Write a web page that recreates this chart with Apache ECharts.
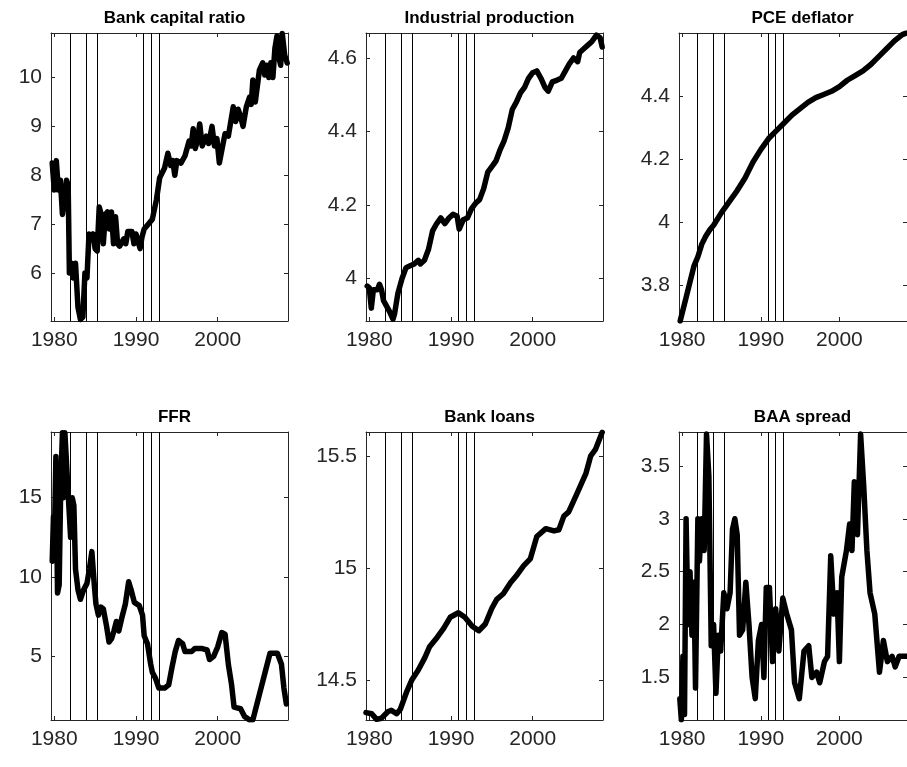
<!DOCTYPE html>
<html lang="en">
<head>
    <meta charset="UTF-8">
    <title>Macro series</title>
    <script src="https://cdn.jsdelivr.net/npm/echarts@6/dist/echarts.min.js"></script>
    <style>
        html, body { margin: 0; padding: 0; background: #fff; }
        #main { width: 907px; height: 767px; }
    </style>
</head>
<body>
    <div id="main"></div>
    <script>
        // data: [year, value]
        var bankCapital = [[1979.75,8.25],[1980.0,7.7],[1980.25,8.3],[1980.5,7.7],[1980.75,7.9],[1981.0,7.2],[1981.25,7.5],[1981.5,7.9],[1981.7,7.8],[1981.85,6.0],[1982.1,6.2],[1982.3,5.9],[1982.6,6.2],[1982.9,5.3],[1983.2,5.05],[1983.5,5.1],[1983.75,6.0],[1984.0,5.9],[1984.25,6.8],[1984.5,6.7],[1984.75,6.8],[1985.0,6.5],[1985.25,6.45],[1985.5,7.35],[1985.75,7.2],[1986.0,6.6],[1986.25,7.2],[1986.5,7.25],[1986.75,6.9],[1987.0,7.25],[1987.25,6.6],[1987.5,7.15],[1987.75,6.6],[1988.0,6.55],[1988.5,6.7],[1988.75,6.6],[1989.0,6.85],[1989.5,6.85],[1989.75,6.6],[1990.0,6.8],[1990.5,6.5],[1990.75,6.75],[1991.0,6.9],[1991.5,7.0],[1992.0,7.1],[1992.5,7.5],[1992.9,7.95],[1993.5,8.15],[1993.9,8.45],[1994.25,8.2],[1994.5,8.3],[1994.75,8.0],[1995.0,8.3],[1995.5,8.25],[1996.0,8.4],[1996.5,8.7],[1996.75,8.6],[1997.0,8.95],[1997.25,8.55],[1997.5,8.7],[1997.8,9.05],[1998.1,8.6],[1998.6,8.8],[1998.9,8.65],[1999.3,9.0],[1999.6,8.6],[1999.9,8.75],[2000.2,8.25],[2000.6,8.6],[2000.9,8.85],[2001.3,8.8],[2001.9,9.4],[2002.2,9.1],[2002.5,9.35],[2002.8,9.2],[2003.1,9.0],[2003.5,9.4],[2003.9,9.6],[2004.1,9.45],[2004.3,9.95],[2004.6,9.5],[2005.1,10.15],[2005.5,10.3],[2005.75,10.05],[2006.0,10.25],[2006.25,10.0],[2006.5,10.3],[2006.75,10.0],[2007.0,10.6],[2007.25,10.85],[2007.5,10.4],[2007.7,10.25],[2007.9,10.9],[2008.2,10.45],[2008.5,10.3]];
        var indProd = [[1979.75,3.98],[1980.0,3.975],[1980.25,3.92],[1980.5,3.97],[1980.75,3.97],[1981.0,3.97],[1981.25,3.985],[1981.5,3.97],[1981.75,3.94],[1982.0,3.93],[1982.5,3.91],[1982.9,3.89],[1983.1,3.905],[1983.5,3.96],[1984.0,4.0],[1984.5,4.03],[1985.0,4.035],[1985.5,4.04],[1986.0,4.05],[1986.25,4.04],[1986.75,4.05],[1987.25,4.08],[1987.75,4.13],[1988.25,4.15],[1988.75,4.165],[1989.25,4.15],[1989.75,4.165],[1990.25,4.175],[1990.75,4.17],[1991.0,4.135],[1991.5,4.16],[1992.0,4.165],[1992.5,4.19],[1993.0,4.205],[1993.5,4.215],[1994.0,4.245],[1994.5,4.29],[1995.0,4.305],[1995.5,4.32],[1996.0,4.35],[1996.5,4.375],[1997.0,4.41],[1997.5,4.46],[1998.0,4.48],[1998.5,4.505],[1999.0,4.52],[1999.5,4.545],[2000.0,4.56],[2000.5,4.565],[2001.0,4.545],[2001.5,4.52],[2001.9,4.51],[2002.4,4.535],[2003.0,4.54],[2003.5,4.545],[2004.0,4.565],[2004.5,4.585],[2005.0,4.6],[2005.5,4.59],[2005.75,4.615],[2006.25,4.625],[2006.75,4.635],[2007.25,4.645],[2007.8,4.662],[2008.25,4.655],[2008.5,4.63]];
        var pce = [[1979.75,3.686],[1980.5,3.76],[1981.0,3.81],[1981.5,3.86],[1982.0,3.89],[1982.5,3.93],[1983.0,3.955],[1983.5,3.975],[1984.0,3.99],[1985.0,4.03],[1986.0,4.065],[1987.0,4.1],[1988.0,4.14],[1989.0,4.19],[1990.0,4.23],[1991.0,4.265],[1992.0,4.29],[1993.0,4.315],[1994.0,4.34],[1995.0,4.36],[1996.0,4.38],[1997.0,4.395],[1998.0,4.405],[1999.0,4.415],[2000.0,4.43],[2001.0,4.45],[2002.0,4.465],[2003.0,4.48],[2004.0,4.5],[2005.0,4.525],[2006.0,4.55],[2007.0,4.575],[2008.0,4.595],[2008.5,4.6]];
        var ffr = [[1979.75,11.0],[1979.9,13.8],[1980.0,12.0],[1980.2,17.6],[1980.4,9.0],[1980.6,9.5],[1980.8,16.0],[1981.0,19.1],[1981.1,15.0],[1981.3,19.1],[1981.5,19.0],[1981.75,14.8],[1982.0,12.5],[1982.2,15.0],[1982.4,14.5],[1982.6,10.5],[1982.9,9.2],[1983.2,8.6],[1983.6,9.2],[1984.0,9.6],[1984.3,10.5],[1984.6,11.6],[1984.9,9.5],[1985.1,8.3],[1985.4,7.6],[1985.7,8.1],[1986.0,8.0],[1986.4,6.9],[1986.7,5.9],[1987.0,6.1],[1987.3,6.6],[1987.6,7.2],[1987.9,6.6],[1988.3,7.5],[1988.7,8.3],[1989.1,9.7],[1989.4,9.2],[1989.8,8.4],[1990.4,8.2],[1990.8,7.6],[1991.0,6.3],[1991.4,5.8],[1991.8,4.5],[1992.0,4.0],[1992.4,3.6],[1992.8,3.0],[1993.5,3.0],[1994.0,3.2],[1994.4,4.3],[1994.8,5.3],[1995.2,6.0],[1995.7,5.8],[1996.0,5.3],[1996.8,5.3],[1997.2,5.5],[1998.0,5.5],[1998.7,5.4],[1999.0,4.8],[1999.5,5.0],[2000.0,5.6],[2000.5,6.5],[2000.9,6.4],[2001.3,4.5],[2001.7,3.2],[2002.0,1.8],[2002.8,1.7],[2003.3,1.2],[2003.9,1.0],[2004.3,1.0],[2004.8,2.0],[2005.3,3.0],[2005.8,4.0],[2006.4,5.2],[2007.3,5.2],[2007.8,4.5],[2008.1,3.0],[2008.4,2.0]];
        var bankLoans = [[1979.6,14.355],[1980.3,14.35],[1980.9,14.325],[1981.5,14.33],[1982.3,14.36],[1982.7,14.365],[1983.35,14.35],[1983.8,14.37],[1984.6,14.45],[1985.2,14.5],[1986.0,14.545],[1986.8,14.6],[1987.4,14.65],[1988.3,14.69],[1989.1,14.73],[1989.9,14.78],[1990.9,14.8],[1991.7,14.78],[1992.6,14.74],[1993.4,14.72],[1994.2,14.75],[1995.0,14.82],[1995.6,14.86],[1996.4,14.885],[1997.3,14.935],[1998.1,14.97],[1998.9,15.01],[1999.7,15.04],[2000.5,15.14],[2001.6,15.175],[2002.6,15.165],[2003.2,15.17],[2003.8,15.23],[2004.4,15.25],[2005.4,15.33],[2006.5,15.42],[2007.1,15.5],[2007.7,15.53],[2008.5,15.605]];
        var baaSpread = [[1979.7,1.3],[1979.9,1.1],[1980.1,1.7],[1980.3,1.15],[1980.5,3.0],[1980.75,2.0],[1981.0,2.5],[1981.25,1.9],[1981.5,2.4],[1981.7,1.4],[1982.0,3.0],[1982.2,2.6],[1982.5,3.0],[1982.8,2.7],[1983.1,3.8],[1983.4,3.4],[1983.7,1.8],[1984.0,2.0],[1984.3,1.35],[1984.6,1.9],[1984.9,1.75],[1985.3,2.3],[1985.7,2.15],[1986.1,2.3],[1986.4,2.9],[1986.7,3.0],[1987.0,2.85],[1987.3,1.9],[1987.7,1.95],[1988.1,2.4],[1988.5,2.0],[1988.9,1.5],[1989.3,1.3],[1989.7,1.85],[1990.1,2.0],[1990.4,1.5],[1990.7,2.35],[1991.1,2.35],[1991.5,1.65],[1991.9,2.15],[1992.3,1.75],[1992.8,2.25],[1993.3,2.1],[1993.9,1.95],[1994.3,1.45],[1994.9,1.3],[1995.5,1.75],[1996.1,1.8],[1996.5,1.5],[1997.1,1.55],[1997.5,1.45],[1998.1,1.65],[1998.5,1.7],[1998.9,2.65],[1999.3,2.1],[1999.7,2.3],[2000.0,1.65],[2000.3,2.45],[2000.9,2.7],[2001.3,2.95],[2001.6,2.7],[2001.9,3.35],[2002.3,2.85],[2002.7,3.8],[2003.1,3.3],[2003.5,2.7],[2003.9,2.3],[2004.5,2.1],[2005.1,1.55],[2005.6,1.85],[2006.1,1.65],[2006.7,1.7],[2007.1,1.6],[2007.6,1.7],[2008.5,1.7]];

        var recessionLines = [1981.95, 1983.9, 1985.3, 1990.9, 1991.9, 1992.85];
        var xTicks = [1980, 1990, 2000];

        var panels = [
            { title: 'Bank capital ratio', data: bankCapital, min: 5.02, max: 10.91, ticks: [6, 7, 8, 9, 10] },
            { title: 'Industrial production', data: indProd, min: 3.885, max: 4.668, ticks: [4, 4.2, 4.4, 4.6] },
            { title: 'PCE deflator', data: pce, min: 3.686, max: 4.6, ticks: [3.8, 4, 4.2, 4.4] },
            { title: 'FFR', data: ffr, min: 0.99, max: 19.14, ticks: [5, 10, 15] },
            { title: 'Bank loans', data: bankLoans, min: 14.322, max: 15.606, ticks: [14.5, 15, 15.5] },
            { title: 'BAA spread', data: baaSpread, min: 1.098, max: 3.82, ticks: [1.5, 2, 2.5, 3, 3.5] }
        ];

        var lefts = [51, 366, 679];
        var tops = [33, 432];
        var W = 237, H = 288;
        var axisColor = '#262626';
        var font = 'Liberation Sans';

        var grid = [], xAxis = [], yAxis = [], series = [], title = [];
        panels.forEach(function (p, i) {
            var l = lefts[i % 3], t = tops[Math.floor(i / 3)];
            grid.push({ left: l, top: t, width: W, height: H });
            title.push({
                text: p.title, left: l + W / 2, top: t - 28, textAlign: 'center',
                textStyle: { fontFamily: font, fontSize: 17, fontWeight: 'bold', color: '#000' }
            });
            ['bottom', 'top'].forEach(function (pos) {
                xAxis.push({
                    type: 'value', gridIndex: i, position: pos, min: 1979.6, max: 2008.6,
                    axisLine: { show: true, onZero: false, lineStyle: { color: axisColor } },
                    axisTick: { show: true, inside: true, length: 4, customValues: xTicks, lineStyle: { color: axisColor } },
                    axisLabel: {
                        show: pos === 'bottom', customValues: xTicks, margin: 9, fontSize: 21, fontFamily: font, color: axisColor,
                        formatter: function (v) { return String(v); }
                    },
                    splitLine: { show: false }
                });
            });
            ['left', 'right'].forEach(function (pos) {
                yAxis.push({
                    type: 'value', gridIndex: i, position: pos, min: p.min, max: p.max,
                    axisLine: { show: true, onZero: false, lineStyle: { color: axisColor } },
                    axisTick: { show: true, inside: true, length: 4, customValues: p.ticks, lineStyle: { color: axisColor } },
                    axisLabel: { show: pos === 'left', customValues: p.ticks, margin: 9, fontSize: 21, fontFamily: font, color: axisColor },
                    splitLine: { show: false }
                });
            });
            series.push({
                type: 'line', xAxisIndex: i * 2, yAxisIndex: i * 2, data: p.data,
                showSymbol: false, clip: true,
                lineStyle: { color: '#000', width: 5.5, join: 'round', cap: 'round' },
                markLine: {
                    silent: true, symbol: 'none', label: { show: false },
                    lineStyle: { color: '#000', width: 1, type: 'solid' },
                    data: recessionLines.map(function (v) { return { xAxis: v }; })
                },
                z: 3
            });
        });

        var myChart = echarts.init(document.getElementById('main'));
        myChart.setOption({
            animation: false,
            backgroundColor: '#fff',
            title: title,
            grid: grid,
            xAxis: xAxis,
            yAxis: yAxis,
            series: series
        });
    </script>
</body>
</html>
